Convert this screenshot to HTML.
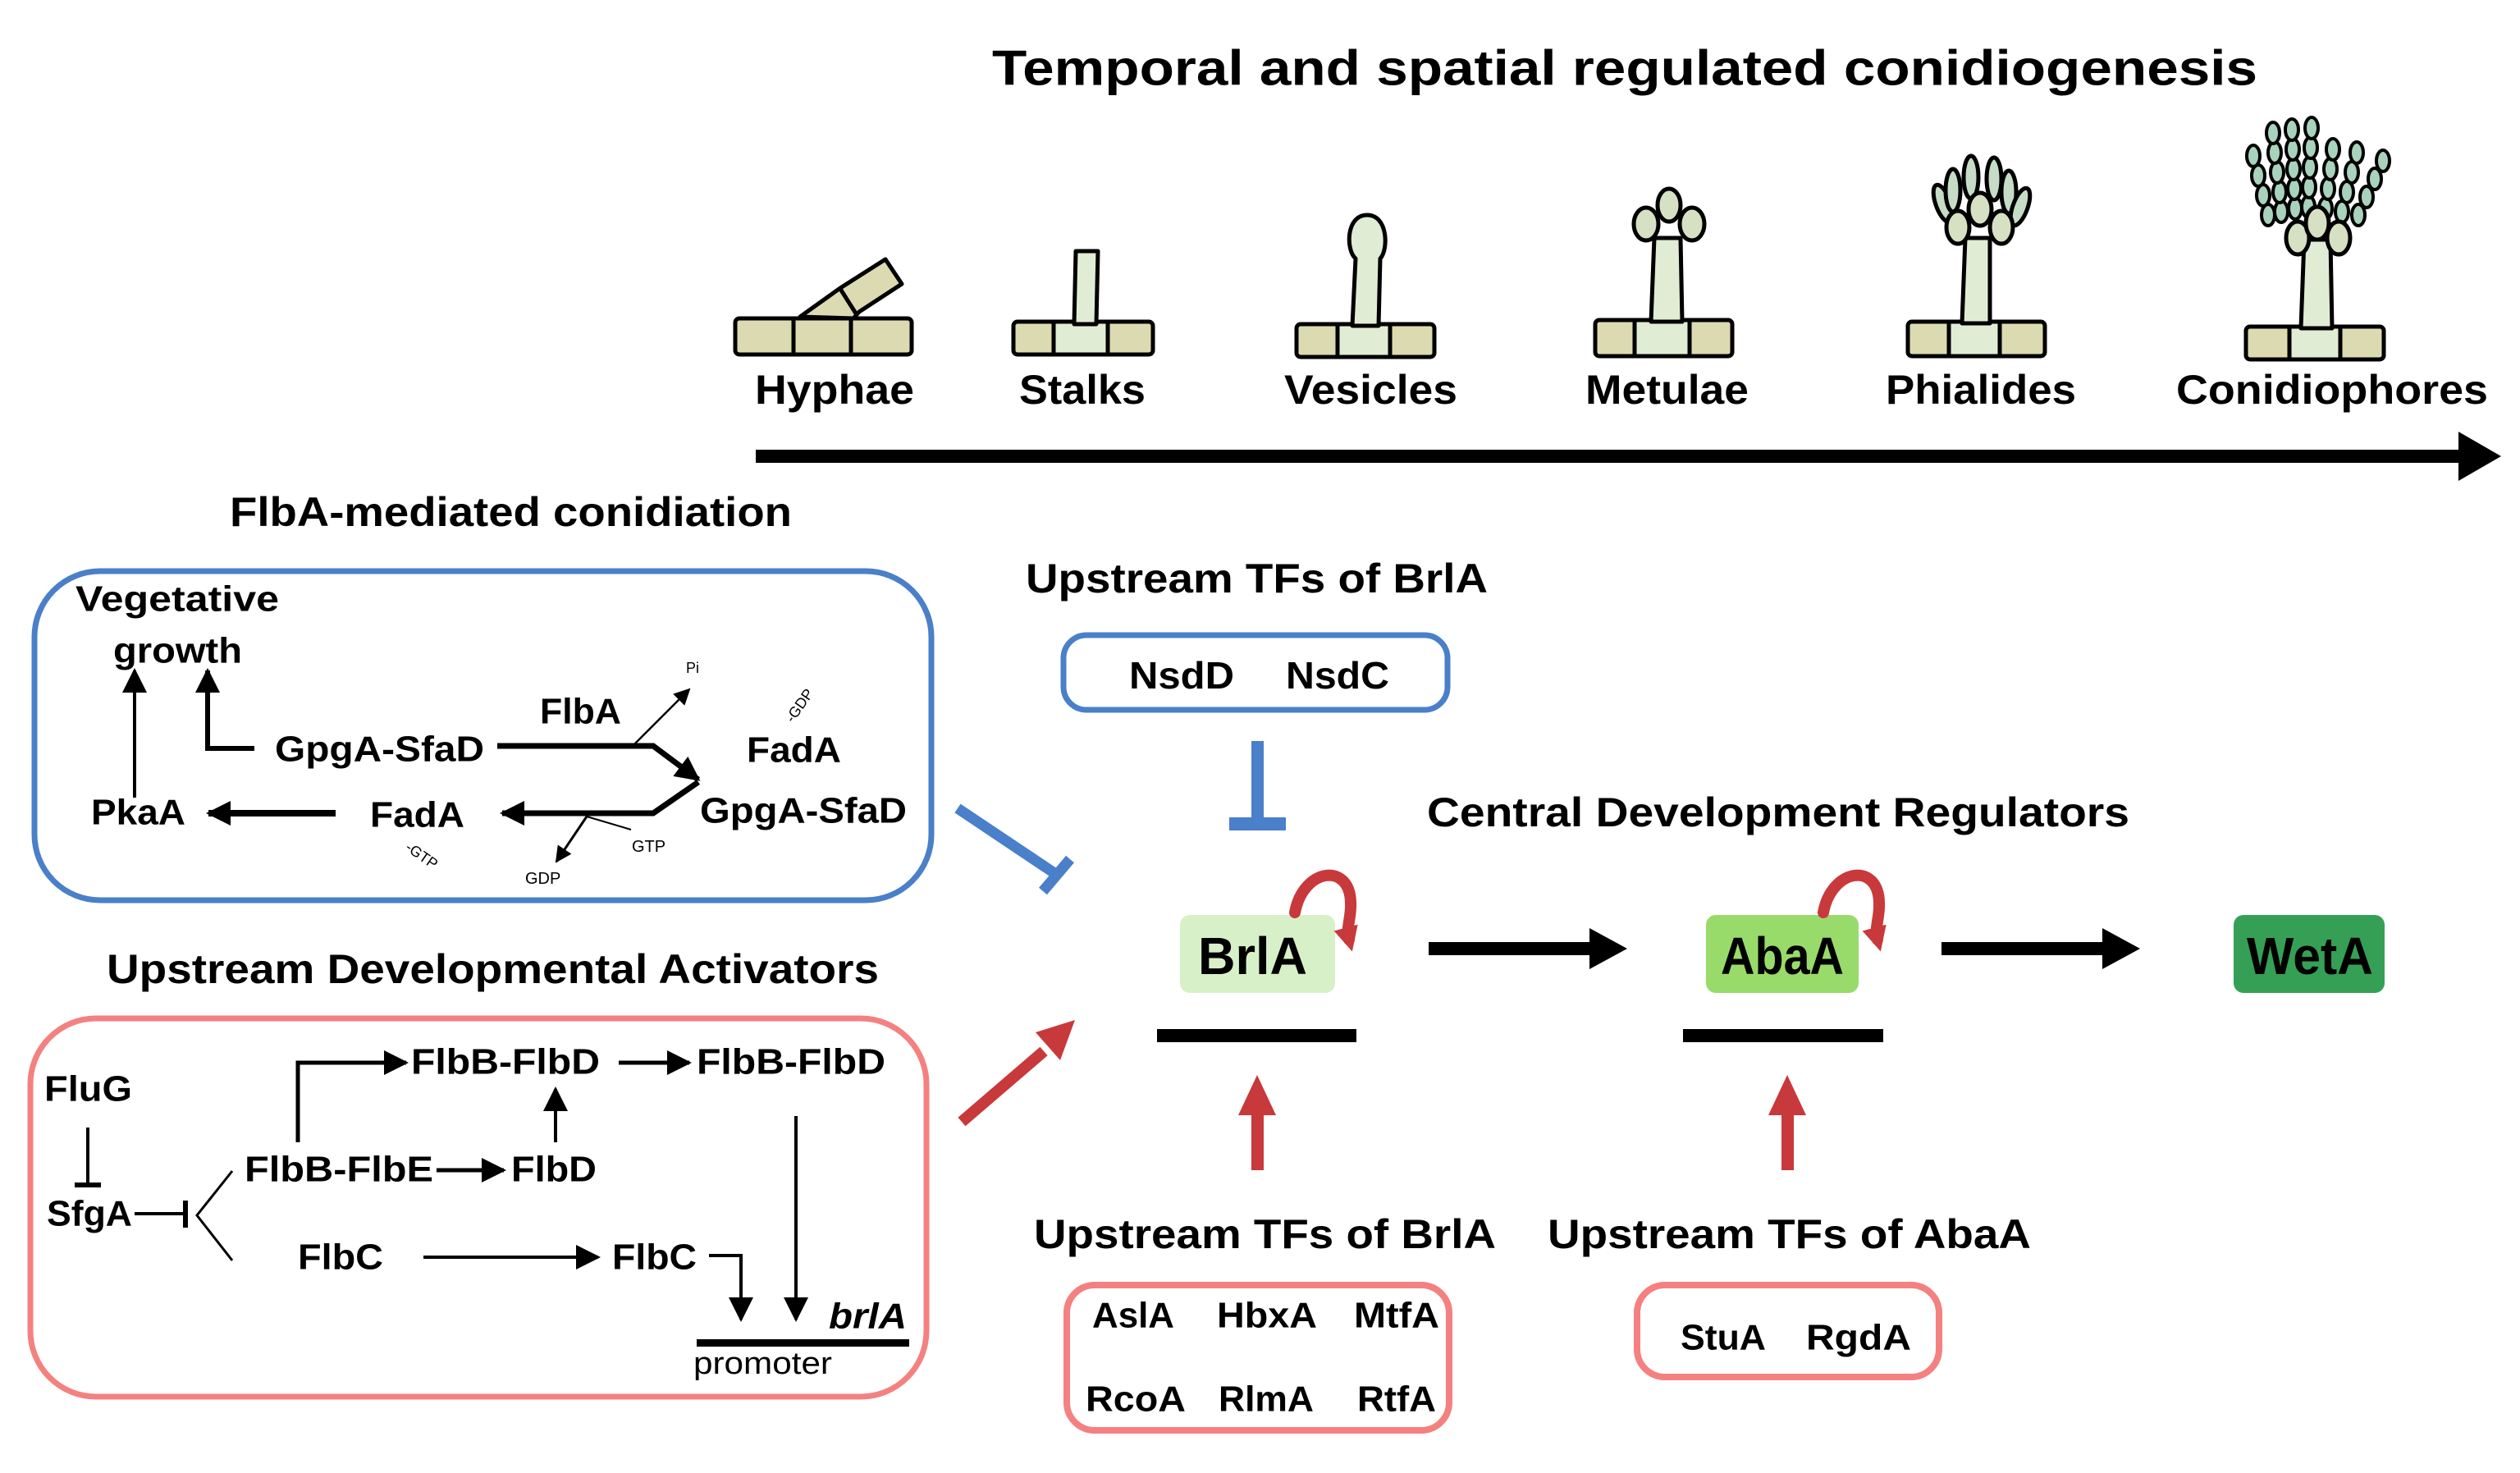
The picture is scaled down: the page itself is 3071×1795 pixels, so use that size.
<!DOCTYPE html>
<html><head><meta charset="utf-8"><style>
html,body{margin:0;padding:0;background:#fff;}
svg{display:block;}
text{font-family:"Liberation Sans",Arial,sans-serif;font-weight:bold;fill:#000;dominant-baseline:central;}
</style></head><body>
<svg width="3071" height="1795" viewBox="0 0 3071 1795" xmlns="http://www.w3.org/2000/svg">
<defs>
<marker id="ah" viewBox="0 0 10 10" refX="9" refY="5" markerUnits="userSpaceOnUse" markerWidth="32" markerHeight="30" orient="auto"><path d="M0,0 L10,5 L0,10 z" fill="#000"/></marker>
<marker id="ahs" viewBox="0 0 10 10" refX="9" refY="5" markerUnits="userSpaceOnUse" markerWidth="22" markerHeight="20" orient="auto"><path d="M0,0 L10,5 L0,10 z" fill="#000"/></marker>
<marker id="ahc" viewBox="0 0 10 10" refX="5" refY="5" markerUnits="userSpaceOnUse" markerWidth="30" markerHeight="30" orient="auto"><path d="M0,0 L10,5 L0,10 z" fill="#c8393b"/></marker>
</defs>

<text x="1209" y="83" font-size="60" textLength="1542" lengthAdjust="spacingAndGlyphs">Temporal and spatial regulated conidiogenesis</text>

<g stroke="#000" stroke-width="5" stroke-linejoin="round">
 <path d="M975,386 L1024,351 L1079,316 L1099,346 L1047,380 L1040,388 Z" fill="#dcdab0"/>
 <line x1="1024" y1="352" x2="1043" y2="382"/>
 <rect x="896" y="388" width="215" height="44" rx="5" fill="#dcdab0"/>
 <line x1="967" y1="388" x2="967" y2="432"/><line x1="1037" y1="388" x2="1037" y2="432"/>
 <rect x="1235" y="392" width="170" height="40" rx="5" fill="#dcdab0"/>
 <rect x="1284" y="392" width="66" height="40" fill="#e0ecd4"/>
 <path d="M1309,395 L1311,306 L1338,306 L1336,395 Z" fill="#e0ecd4"/>
 <rect x="1580" y="395" width="168" height="40" rx="5" fill="#dcdab0"/>
 <rect x="1630" y="395" width="64" height="40" fill="#e0ecd4"/>
 <path d="M1648,397 L1652,315 C1640,305 1640,262 1666,262 C1692,262 1692,305 1682,315 L1680,397 Z" fill="#e0ecd4"/>
 <rect x="1944" y="390" width="167" height="44" rx="5" fill="#dcdab0"/>
 <rect x="1992" y="390" width="67" height="44" fill="#e0ecd4"/>
 <path d="M2012,392 L2016,290 L2048,290 L2050,392 Z" fill="#e0ecd4"/>
 <ellipse cx="2006" cy="273" rx="15" ry="20" fill="#d6e0c2"/>
 <ellipse cx="2062" cy="273" rx="15" ry="20" fill="#d6e0c2"/>
 <ellipse cx="2034" cy="250" rx="14" ry="20" fill="#d6e0c2"/>
 <rect x="2325" y="392" width="167" height="42" rx="5" fill="#dcdab0"/>
 <rect x="2375" y="392" width="62" height="42" fill="#e0ecd4"/>
 <path d="M2391,394 L2395,290 L2425,290 L2425,394 Z" fill="#e0ecd4"/>
 <g fill="#c6dcc6">
  <ellipse cx="2368" cy="248" rx="9" ry="24" transform="rotate(-20 2368 248)"/>
  <ellipse cx="2380" cy="232" rx="9" ry="26"/>
  <ellipse cx="2402" cy="216" rx="9" ry="26"/>
  <ellipse cx="2430" cy="218" rx="9" ry="26"/>
  <ellipse cx="2448" cy="234" rx="9" ry="26"/>
  <ellipse cx="2462" cy="252" rx="9" ry="24" transform="rotate(20 2462 252)"/>
 </g>
 <ellipse cx="2386" cy="277" rx="14" ry="20" fill="#d6e0c2"/>
 <ellipse cx="2439" cy="277" rx="14" ry="20" fill="#d6e0c2"/>
 <ellipse cx="2413" cy="255" rx="14" ry="20" fill="#d6e0c2"/>
 <rect x="2737" y="398" width="168" height="40" rx="5" fill="#dcdab0"/>
 <rect x="2790" y="398" width="62" height="40" fill="#e0ecd4"/>
 <path d="M2804,400 L2808,292 L2840,292 L2842,400 Z" fill="#e0ecd4"/>
 <g fill="#a9d2bc" stroke-width="4">
  <ellipse cx="2764" cy="262" rx="8" ry="13"/><ellipse cx="2758" cy="238" rx="8" ry="13"/><ellipse cx="2752" cy="214" rx="8" ry="13"/><ellipse cx="2746" cy="190" rx="8" ry="13"/>
  <ellipse cx="2780" cy="258" rx="8" ry="13"/><ellipse cx="2778" cy="234" rx="8" ry="13"/><ellipse cx="2775" cy="210" rx="8" ry="13"/><ellipse cx="2772" cy="186" rx="8" ry="13"/><ellipse cx="2770" cy="162" rx="8" ry="13"/>
  <ellipse cx="2797" cy="254" rx="8" ry="13"/><ellipse cx="2796" cy="230" rx="8" ry="13"/><ellipse cx="2795" cy="206" rx="8" ry="13"/><ellipse cx="2794" cy="182" rx="8" ry="13"/><ellipse cx="2793" cy="158" rx="8" ry="13"/>
  <ellipse cx="2813" cy="252" rx="8" ry="13"/><ellipse cx="2814" cy="228" rx="8" ry="13"/><ellipse cx="2815" cy="204" rx="8" ry="13"/><ellipse cx="2816" cy="180" rx="8" ry="13"/><ellipse cx="2817" cy="156" rx="8" ry="13"/>
  <ellipse cx="2834" cy="254" rx="8" ry="13"/><ellipse cx="2837" cy="230" rx="8" ry="13"/><ellipse cx="2840" cy="206" rx="8" ry="13"/><ellipse cx="2843" cy="182" rx="8" ry="13"/>
  <ellipse cx="2854" cy="258" rx="8" ry="13"/><ellipse cx="2860" cy="234" rx="8" ry="13"/><ellipse cx="2866" cy="210" rx="8" ry="13"/><ellipse cx="2872" cy="186" rx="8" ry="13"/>
  <ellipse cx="2874" cy="262" rx="8" ry="13"/><ellipse cx="2884" cy="240" rx="8" ry="13"/><ellipse cx="2894" cy="218" rx="8" ry="13"/><ellipse cx="2904" cy="196" rx="8" ry="13"/>
 </g>
 <ellipse cx="2800" cy="290" rx="14" ry="20" fill="#d6e0c2"/>
 <ellipse cx="2850" cy="290" rx="14" ry="20" fill="#d6e0c2"/>
 <ellipse cx="2824" cy="272" rx="14" ry="20" fill="#d6e0c2"/>
</g>

<text x="920" y="475" font-size="50" textLength="194" lengthAdjust="spacingAndGlyphs">Hyphae</text>
<text x="1242" y="475" font-size="50" textLength="154" lengthAdjust="spacingAndGlyphs">Stalks</text>
<text x="1565" y="475" font-size="50" textLength="211" lengthAdjust="spacingAndGlyphs">Vesicles</text>
<text x="1932" y="475" font-size="50" textLength="199" lengthAdjust="spacingAndGlyphs">Metulae</text>
<text x="2298" y="475" font-size="50" textLength="232" lengthAdjust="spacingAndGlyphs">Phialides</text>
<text x="2652" y="475" font-size="50" textLength="380" lengthAdjust="spacingAndGlyphs">Conidiophores</text>

<rect x="921" y="548" width="2080" height="16" fill="#000"/>
<path d="M2996,526 L3048,556 L2996,586 Z" fill="#000"/>

<text x="280" y="624" font-size="50" textLength="685" lengthAdjust="spacingAndGlyphs">FlbA-mediated  conidiation</text>
<rect x="42" y="696" width="1093" height="401" rx="80" fill="none" stroke="#4a7fc9" stroke-width="7"/>
<text x="92" y="730" font-size="44" textLength="248" lengthAdjust="spacingAndGlyphs">Vegetative</text>
<text x="138" y="793" font-size="44" textLength="157" lengthAdjust="spacingAndGlyphs">growth</text>
<line x1="164" y1="972" x2="164" y2="817" stroke="#000" stroke-width="4" marker-end="url(#ah)"/>
<polyline points="310,912 253,912 253,817" fill="none" stroke="#000" stroke-width="6" marker-end="url(#ah)"/>
<text x="335" y="913" font-size="44" textLength="255" lengthAdjust="spacingAndGlyphs">GpgA-SfaD</text>
<text x="658" y="867" font-size="44" textLength="99" lengthAdjust="spacingAndGlyphs">FlbA</text>
<polyline points="606,909 796,909 851,950" fill="none" stroke="#000" stroke-width="7" marker-end="url(#ah)"/>
<line x1="773" y1="907" x2="840" y2="840" stroke="#000" stroke-width="2.5" marker-end="url(#ahs)"/>
<text x="836" y="814" font-size="18" style="font-weight:normal">Pi</text>
<text x="955" y="868" font-size="18" style="font-weight:normal" transform="rotate(-55 968 867)">-GDP</text>
<text x="910" y="914" font-size="44" textLength="115" lengthAdjust="spacingAndGlyphs">FadA</text>
<text x="853" y="988" font-size="44" textLength="252" lengthAdjust="spacingAndGlyphs">GpgA-SfaD</text>
<polyline points="851,953 796,991 612,991" fill="none" stroke="#000" stroke-width="7" marker-end="url(#ah)"/>
<line x1="715" y1="995" x2="769" y2="1011" stroke="#000" stroke-width="2"/>
<line x1="715" y1="995" x2="678" y2="1050" stroke="#000" stroke-width="3" marker-end="url(#ahs)"/>
<text x="770" y="1032" font-size="20" style="font-weight:normal">GTP</text>
<text x="640" y="1071" font-size="20" style="font-weight:normal">GDP</text>
<text x="492" y="1044" font-size="18" style="font-weight:normal" transform="rotate(35 516 1044)">-GTP</text>
<text x="451" y="993" font-size="44" textLength="115" lengthAdjust="spacingAndGlyphs">FadA</text>
<line x1="409" y1="991" x2="254" y2="991" stroke="#000" stroke-width="8" marker-end="url(#ah)"/>
<text x="111" y="990" font-size="44" textLength="115" lengthAdjust="spacingAndGlyphs">PkaA</text>

<text x="130" y="1181" font-size="50" textLength="941" lengthAdjust="spacingAndGlyphs">Upstream  Developmental  Activators</text>
<rect x="37" y="1241" width="1092" height="461" rx="80" fill="none" stroke="#f58080" stroke-width="7"/>
<text x="54" y="1327" font-size="44" textLength="107" lengthAdjust="spacingAndGlyphs">FluG</text>
<line x1="107" y1="1374" x2="107" y2="1444" stroke="#000" stroke-width="4"/>
<line x1="91" y1="1444" x2="123" y2="1444" stroke="#000" stroke-width="6"/>
<text x="57" y="1479" font-size="44" textLength="104" lengthAdjust="spacingAndGlyphs">SfgA</text>
<line x1="164" y1="1479" x2="226" y2="1479" stroke="#000" stroke-width="4"/>
<line x1="226" y1="1463" x2="226" y2="1496" stroke="#000" stroke-width="6"/>
<polyline points="283,1427 240,1481 283,1536" fill="none" stroke="#000" stroke-width="3"/>
<text x="298" y="1425" font-size="44" textLength="230" lengthAdjust="spacingAndGlyphs">FlbB-FlbE</text>
<line x1="532" y1="1426" x2="614" y2="1426" stroke="#000" stroke-width="5" marker-end="url(#ah)"/>
<text x="623" y="1425" font-size="44" textLength="104" lengthAdjust="spacingAndGlyphs">FlbD</text>
<line x1="677" y1="1392" x2="677" y2="1327" stroke="#000" stroke-width="4" marker-end="url(#ah)"/>
<polyline points="363,1392 363,1295 495,1295" fill="none" stroke="#000" stroke-width="5" marker-end="url(#ah)"/>
<text x="501" y="1294" font-size="44" textLength="230" lengthAdjust="spacingAndGlyphs">FlbB-FlbD</text>
<line x1="754" y1="1295" x2="840" y2="1295" stroke="#000" stroke-width="5" marker-end="url(#ah)"/>
<text x="849" y="1294" font-size="44" textLength="230" lengthAdjust="spacingAndGlyphs">FlbB-FlbD</text>
<line x1="970" y1="1360" x2="970" y2="1608" stroke="#000" stroke-width="4" marker-end="url(#ah)"/>
<text x="363" y="1532" font-size="44" textLength="104" lengthAdjust="spacingAndGlyphs">FlbC</text>
<line x1="516" y1="1532" x2="729" y2="1532" stroke="#000" stroke-width="4" marker-end="url(#ah)"/>
<text x="746" y="1532" font-size="44" textLength="103" lengthAdjust="spacingAndGlyphs">FlbC</text>
<polyline points="864,1530 903,1530 903,1608" fill="none" stroke="#000" stroke-width="4" marker-end="url(#ah)"/>
<text x="1010" y="1604" font-size="44" font-style="italic" textLength="95" lengthAdjust="spacingAndGlyphs">brlA</text>
<rect x="849" y="1632" width="259" height="9" fill="#000"/>
<text x="845" y="1662" font-size="38" style="font-weight:normal" textLength="169" lengthAdjust="spacingAndGlyphs">promoter</text>

<line x1="1167" y1="985" x2="1285" y2="1064" stroke="#4a7fc9" stroke-width="13"/>
<line x1="1271" y1="1086" x2="1304" y2="1047" stroke="#4a7fc9" stroke-width="13"/>
<line x1="1172" y1="1367" x2="1272" y2="1281" stroke="#c8393b" stroke-width="14"/>
<path d="M1310,1243 L1292,1292 L1262,1258 Z" fill="#c8393b"/>

<text x="1250" y="705" font-size="50" textLength="563" lengthAdjust="spacingAndGlyphs">Upstream  TFs of BrlA</text>
<rect x="1296" y="774" width="468" height="91" rx="28" fill="none" stroke="#4a7fc9" stroke-width="7"/>
<text x="1376" y="823" font-size="46" textLength="128" lengthAdjust="spacingAndGlyphs">NsdD</text>
<text x="1567" y="823" font-size="46" textLength="126" lengthAdjust="spacingAndGlyphs">NsdC</text>
<rect x="1525" y="903" width="15" height="100" fill="#4a7fc9"/>
<rect x="1498" y="996" width="69" height="16" fill="#4a7fc9"/>

<text x="1739" y="990" font-size="50" textLength="856" lengthAdjust="spacingAndGlyphs">Central  Development  Regulators</text>
<rect x="1438" y="1115" width="189" height="95" rx="12" fill="#d7f0c8"/>
<text x="1460" y="1165" font-size="64" textLength="133" lengthAdjust="spacingAndGlyphs">BrlA</text>
<path d="M1578,1112 C1588,1058 1645,1050 1646,1100 C1647,1118 1640,1130 1644,1145" fill="none" stroke="#c8393b" stroke-width="14" stroke-linecap="round" marker-end="url(#ahc)"/>
<rect x="2079" y="1115" width="186" height="95" rx="12" fill="#99db6a"/>
<text x="2097" y="1165" font-size="64" textLength="150" lengthAdjust="spacingAndGlyphs">AbaA</text>
<path d="M2222,1112 C2232,1058 2289,1050 2290,1100 C2291,1118 2284,1130 2288,1145" fill="none" stroke="#c8393b" stroke-width="14" stroke-linecap="round" marker-end="url(#ahc)"/>
<rect x="2722" y="1115" width="184" height="95" rx="12" fill="#35a055"/>
<text x="2738" y="1165" font-size="64" textLength="154" lengthAdjust="spacingAndGlyphs">WetA</text>
<rect x="1741" y="1148" width="200" height="16" fill="#000"/>
<path d="M1937,1131 L1983,1156 L1937,1181 Z" fill="#000"/>
<rect x="2366" y="1148" width="200" height="16" fill="#000"/>
<path d="M2562,1131 L2608,1156 L2562,1181 Z" fill="#000"/>
<rect x="1410" y="1254" width="243" height="16" fill="#000"/>
<rect x="2051" y="1254" width="244" height="16" fill="#000"/>

<rect x="1525" y="1356" width="15" height="70" fill="#c8393b"/>
<path d="M1532,1310 L1555,1359 L1509,1359 Z" fill="#c8393b"/>
<rect x="2171" y="1356" width="15" height="70" fill="#c8393b"/>
<path d="M2178,1310 L2201,1359 L2155,1359 Z" fill="#c8393b"/>

<text x="1260" y="1504" font-size="50" textLength="563" lengthAdjust="spacingAndGlyphs">Upstream  TFs of BrlA</text>
<text x="1886" y="1504" font-size="50" textLength="589" lengthAdjust="spacingAndGlyphs">Upstream  TFs of AbaA</text>
<rect x="1300" y="1566" width="466" height="177" rx="34" fill="none" stroke="#f58080" stroke-width="8"/>
<text x="1331" y="1603" font-size="44" textLength="100" lengthAdjust="spacingAndGlyphs">AslA</text>
<text x="1483" y="1603" font-size="44" textLength="122" lengthAdjust="spacingAndGlyphs">HbxA</text>
<text x="1650" y="1603" font-size="44" textLength="104" lengthAdjust="spacingAndGlyphs">MtfA</text>
<text x="1323" y="1705" font-size="44" textLength="122" lengthAdjust="spacingAndGlyphs">RcoA</text>
<text x="1485" y="1705" font-size="44" textLength="116" lengthAdjust="spacingAndGlyphs">RlmA</text>
<text x="1654" y="1705" font-size="44" textLength="96" lengthAdjust="spacingAndGlyphs">RtfA</text>
<rect x="1995" y="1566" width="368" height="112" rx="34" fill="none" stroke="#f58080" stroke-width="8"/>
<text x="2048" y="1630" font-size="44" textLength="104" lengthAdjust="spacingAndGlyphs">StuA</text>
<text x="2201" y="1630" font-size="44" textLength="128" lengthAdjust="spacingAndGlyphs">RgdA</text>
</svg>
</body></html>
